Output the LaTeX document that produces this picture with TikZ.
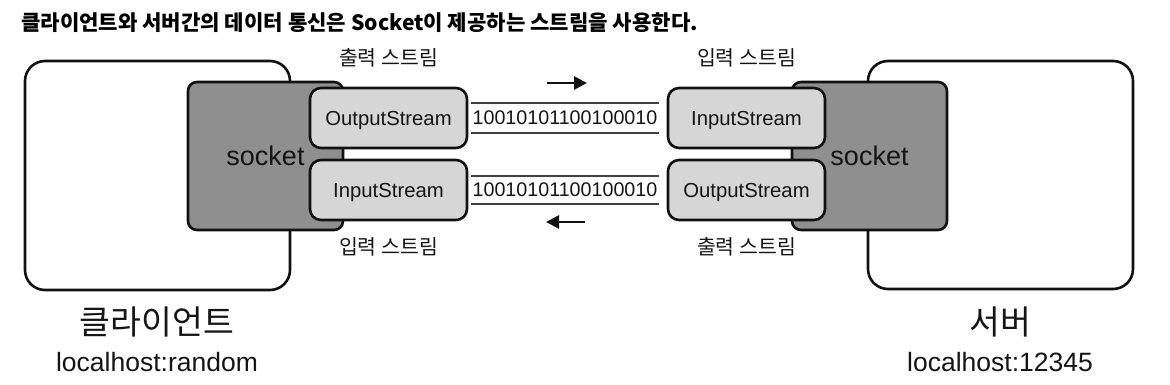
\documentclass[tikz,border=0pt]{standalone}
\usepackage{fontspec}
\setmainfont{Liberation Sans}
\newfontfamily\kr{Noto Sans CJK KR}
\usetikzlibrary{arrows.meta}
\definecolor{sockgray}{HTML}{8F8F8F}
\definecolor{streamgray}{HTML}{D6D6D6}
\definecolor{ink}{HTML}{111111}
\definecolor{txt}{HTML}{151515}
\tikzset{
  hostbox/.style={draw=ink, line width=2.6pt, rounded corners=20pt, fill=white, inner sep=0pt},
  sockbox/.style={draw=ink, line width=2.6pt, rounded corners=9pt, fill=sockgray, inner sep=0pt,
    font=\fontsize{27}{30}\selectfont, text=txt},
  streambox/.style={draw=ink, line width=2.6pt, rounded corners=11pt, fill=streamgray, inner sep=0pt,
    minimum width=157pt, minimum height=60pt, text depth=0pt, font=\fontsize{20.3}{24}\selectfont, text=txt},
  datatext/.style={font=\fontsize{19.7}{22}\selectfont, text=txt, inner sep=0pt},
  dataline/.style={draw=ink!80, line width=1.5pt},
  flowarrow/.style={line width=2.8pt, draw=ink, -{Triangle[length=13pt,width=13pt]}},
  streamlabel/.style={font=\kr\fontsize{20.5}{24}\selectfont, text=txt, inner sep=0pt},
  hostname/.style={font=\kr\fontsize{33.5}{36}\selectfont, text=txt, inner sep=0pt},
  hostaddr/.style={font=\fontsize{26.5}{30}\selectfont, text=txt, inner sep=0pt},
  titletext/.style={font=\kr\bfseries\fontsize{21.1}{24}\selectfont, text=black, inner sep=0pt, anchor=west}
}
\begin{document}
\begin{tikzpicture}[x=1pt,y=-1pt]
\useasboundingbox[fill=white] (0,0) rectangle (1170,385);

% title
\node[titletext] (title) at (21,23) {클라이언트와 서버간의 데이터 통신은 Socket이 제공하는 스트림을 사용한다.};

% hosts
\node[hostbox, minimum width=265pt, minimum height=229pt] (client) at (157.5,175.5) {};
\node[hostbox, minimum width=265pt, minimum height=228pt] (server) at (1000.5,175) {};

% sockets
\node[sockbox, minimum width=155pt, minimum height=148pt] (csock) at (265.5,156) {socket};
\node[sockbox, minimum width=155pt, minimum height=148pt] (ssock) at (869.5,156) {socket};

% streams
\node[streambox] (cout) at (388.5,118) {OutputStream};
\node[streambox] (cin)  at (388.5,190) {InputStream};
\node[streambox] (sin)  at (746.5,118) {InputStream};
\node[streambox] (sout) at (746.5,190) {OutputStream};

% data channels
\node[datatext] (data1) at (565,118) {10010101100100010};
\node[datatext] (data2) at (565,190) {10010101100100010};
\coordinate (d1ta) at (471,103); \coordinate (d1tb) at (659,103);
\coordinate (d1ba) at (471,133); \coordinate (d1bb) at (659,133);
\coordinate (d2ta) at (471,176); \coordinate (d2tb) at (659,176);
\coordinate (d2ba) at (471,204); \coordinate (d2bb) at (659,204);
\draw[dataline] (d1ta) -- (d1tb);
\draw[dataline] (d1ba) -- (d1bb);
\draw[dataline] (d2ta) -- (d2tb);
\draw[dataline] (d2ba) -- (d2bb);

% direction arrows
\coordinate (a1s) at (547,83); \coordinate (a1e) at (587,83);
\coordinate (a2s) at (585,222); \coordinate (a2e) at (546,222);
\draw[flowarrow] (a1s) -- (a1e);
\draw[flowarrow] (a2s) -- (a2e);

% stream labels
\node[streamlabel] (l1) at (388.5,58) {출력 스트림};
\node[streamlabel] (l2) at (388.5,247) {입력 스트림};
\node[streamlabel] (l3) at (746.5,58) {입력 스트림};
\node[streamlabel] (l4) at (746.5,247) {출력 스트림};

% host labels
\node[hostname] (cname) at (157,322) {클라이언트};
\node[hostaddr] (caddr) at (157,362) {localhost:random};
\node[hostname] (sname) at (1000,322) {서버};
\node[hostaddr] (saddr) at (1000,362) {localhost:12345};
\end{tikzpicture}
\end{document}
